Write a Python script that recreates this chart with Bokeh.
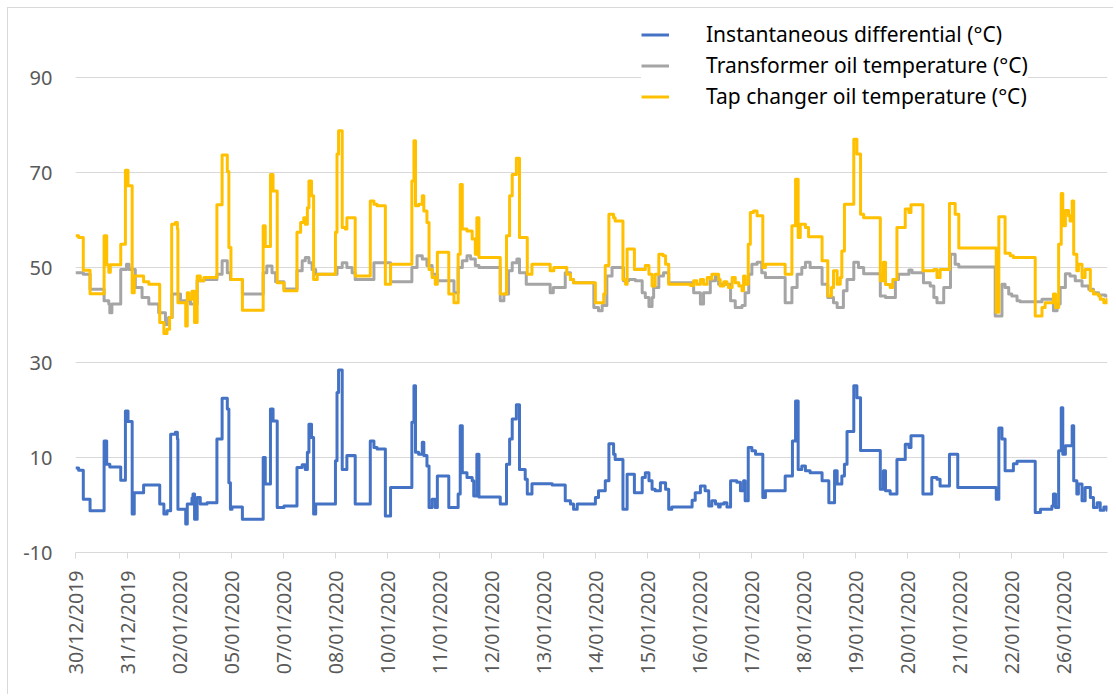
from math import pi
from bokeh.plotting import figure
from bokeh.models import Range1d, Legend, LegendItem, FixedTicker
from bokeh.embed import file_html
from bokeh.resources import INLINE

# ---- categories (row index of the sheet; a date label every 100 rows) ----
label_rows = [0, 100, 200, 300, 400, 500, 600, 700, 800, 900,
              1000, 1100, 1200, 1300, 1400, 1500, 1600, 1700, 1800, 1900]
date_labels = ["30/12/2019", "31/12/2019", "02/01/2020", "05/01/2020", "07/01/2020",
               "08/01/2020", "10/01/2020", "11/01/2020", "12/01/2020", "13/01/2020",
               "14/01/2020", "15/01/2020", "16/01/2020", "17/01/2020", "18/01/2020",
               "19/01/2020", "20/01/2020", "21/01/2020", "22/01/2020", "26/01/2020"]
last_row = 1985
y_ticks = [-10, 10, 30, 50, 70, 90]
y_labels = ["-10", "10", "30", "50", "70", "90"]

# ---- series: (row, value) where the value changes ----
tap_changer = [
    (0, 56.7), (6, 56.3), (15, 49.4), (28, 44.5), (55, 56.7), (60, 50.6), (64, 49.0), (67, 50.6),
    (87, 54.9), (96, 70.5), (101, 67.2), (109, 44.7), (113, 48.2), (131, 47.0), (141, 46.5),
    (162, 38.4), (170, 36.1), (176, 37.0), (181, 39.5), (185, 59.1), (192, 59.5), (196, 58.1),
    (197, 42.6), (212, 37.7), (215, 44.7), (218, 43.3), (224, 45.0), (229, 38.4), (234, 48.2),
    (240, 47.2), (247, 47.9), (272, 63.2), (282, 73.7), (292, 70.2), (295, 54.2), (299, 47.5),
    (321, 41.0), (361, 58.8), (365, 54.4), (375, 69.6), (380, 66.1), (388, 46.8), (401, 45.1),
    (426, 57.4), (433, 59.5), (439, 60.5), (442, 59.1), (446, 62.6), (449, 68.2), (454, 65.1),
    (458, 47.5), (465, 48.6), (500, 57.4), (503, 73.9), (506, 78.8), (513, 58.4), (519, 58.1),
    (522, 60.5), (538, 48.2), (567, 64.0), (574, 63.3), (580, 63.0), (596, 46.5), (606, 50.7),
    (647, 68.2), (651, 76.7), (654, 63.0), (660, 63.3), (667, 65.1), (670, 61.9), (676, 59.5),
    (680, 49.6), (686, 47.9), (692, 46.5), (696, 53.2), (718, 44.4), (728, 42.6), (736, 52.8),
    (740, 67.5), (744, 58.1), (753, 57.7), (763, 56.0), (769, 52.8), (772, 60.5), (776, 52.1),
    (817, 44.4), (829, 56.7), (835, 65.1), (840, 69.6), (848, 73.0), (854, 56.3), (869, 48.6),
    (878, 50.7), (913, 49.3), (920, 50.0), (945, 48.6), (952, 47.5), (958, 46.8), (1000, 42.6),
    (1016, 44.4), (1019, 50.4), (1026, 61.2), (1035, 60.5), (1038, 59.8), (1053, 47.5),
    (1058, 46.5), (1061, 53.9), (1075, 49.6), (1096, 50.4), (1103, 48.6), (1109, 46.1),
    (1115, 48.6), (1122, 52.8), (1130, 52.5), (1135, 50.7), (1141, 46.5), (1183, 46.2),
    (1189, 47.2), (1195, 46.5), (1202, 47.5), (1208, 46.5), (1215, 47.9), (1221, 47.6),
    (1224, 48.6), (1237, 47.5), (1240, 46.1), (1247, 47.0), (1253, 46.5), (1256, 45.8),
    (1263, 47.9), (1269, 46.8), (1276, 46.1), (1282, 45.1), (1285, 48.2), (1288, 46.5),
    (1294, 54.9), (1298, 61.6), (1304, 61.9), (1311, 60.9), (1322, 50.0), (1327, 50.7),
    (1365, 48.6), (1378, 58.8), (1385, 68.6), (1390, 56.3), (1394, 59.1), (1404, 58.4),
    (1410, 56.5), (1436, 51.4), (1447, 44.0), (1454, 45.8), (1458, 49.3), (1465, 46.5),
    (1471, 47.9), (1474, 53.5), (1479, 63.3), (1497, 77.0), (1503, 73.9), (1510, 61.2),
    (1516, 60.5), (1548, 47.2), (1554, 51.1), (1558, 46.4), (1567, 45.8), (1572, 47.5),
    (1580, 58.4), (1596, 62.3), (1603, 61.6), (1607, 63.2), (1630, 49.3), (1651, 49.6),
    (1657, 47.9), (1663, 49.6), (1681, 63.5), (1692, 61.2), (1699, 54.1), (1771, 40.6),
    (1776, 60.7), (1788, 53.0), (1798, 52.5), (1804, 52.1), (1846, 39.8), (1859, 41.6),
    (1865, 42.6), (1881, 44.4), (1885, 41.6), (1891, 54.9), (1896, 65.6), (1899, 58.8),
    (1904, 62.0), (1910, 60.9), (1913, 59.8), (1917, 64.0), (1920, 52.8), (1926, 49.3),
    (1929, 50.7), (1936, 47.9), (1942, 49.6), (1952, 45.1), (1958, 44.4), (1968, 44.0),
    (1971, 43.3), (1978, 42.6), (1984, 43.3),
]

transformer = [
    (0, 48.9), (15, 48.6), (28, 45.4), (55, 43.0), (64, 42.3), (66, 40.5), (70, 42.3), (87, 49.6),
    (98, 50.7), (103, 49.6), (115, 45.8), (128, 43.7), (141, 42.3), (160, 40.5), (173, 38.0),
    (179, 39.5), (186, 44.4), (202, 43.0), (221, 42.3), (234, 47.2), (247, 47.5), (272, 48.6),
    (282, 51.4), (292, 48.9), (298, 47.5), (321, 44.4), (361, 48.9), (368, 50.3), (378, 48.9),
    (385, 47.0), (401, 45.5), (426, 49.3), (436, 51.4), (442, 52.1), (449, 51.0), (455, 49.6),
    (462, 48.6), (503, 50.0), (513, 51.0), (522, 50.0), (532, 48.9), (538, 47.5), (574, 51.0),
    (606, 47.0), (647, 50.0), (657, 52.5), (667, 51.8), (676, 50.4), (686, 48.6), (696, 47.2),
    (728, 44.7), (736, 50.0), (744, 51.4), (753, 52.5), (760, 51.8), (769, 50.4), (776, 50.0),
    (817, 43.0), (824, 44.4), (833, 49.3), (840, 51.0), (849, 51.8), (854, 48.9), (867, 46.5),
    (913, 44.7), (919, 45.8), (942, 48.9), (952, 47.5), (958, 46.8), (997, 41.6), (1006, 40.9),
    (1013, 42.0), (1022, 48.2), (1032, 50.0), (1054, 47.2), (1064, 47.5), (1077, 47.2),
    (1090, 44.7), (1096, 43.7), (1103, 41.8), (1109, 43.7), (1112, 45.8), (1122, 48.2),
    (1131, 48.9), (1141, 46.8), (1189, 44.7), (1202, 42.3), (1208, 44.7), (1221, 47.2),
    (1231, 48.2), (1237, 46.5), (1260, 43.0), (1269, 41.6), (1282, 42.0), (1288, 44.7),
    (1295, 48.6), (1301, 50.7), (1311, 51.1), (1320, 48.9), (1327, 47.9), (1365, 42.6),
    (1378, 45.8), (1388, 48.6), (1397, 50.0), (1404, 51.1), (1413, 50.0), (1436, 46.5),
    (1447, 43.7), (1458, 42.6), (1465, 41.6), (1477, 45.1), (1484, 47.5), (1497, 51.1),
    (1506, 50.0), (1516, 48.7), (1548, 44.0), (1558, 43.7), (1577, 47.5), (1583, 48.6),
    (1603, 49.5), (1609, 48.9), (1631, 46.8), (1644, 46.1), (1651, 43.7), (1657, 42.6),
    (1670, 45.8), (1683, 52.8), (1692, 50.7), (1699, 50.1), (1769, 39.8), (1782, 46.5),
    (1788, 45.8), (1795, 44.4), (1801, 44.0), (1811, 43.0), (1817, 42.8), (1859, 43.3),
    (1881, 40.9), (1888, 42.3), (1894, 45.8), (1904, 48.7), (1913, 48.2), (1923, 47.2),
    (1936, 46.1), (1949, 45.4), (1958, 44.7), (1968, 44.2), (1981, 44.0),
]

differential = [
    (0, 7.8), (6, 7.3), (15, 1.2), (28, -1.2), (55, 13.5), (60, 8.6), (66, 8.0), (87, 5.2),
    (96, 19.8), (101, 17.6), (109, -1.9), (113, 2.6), (131, 4.2), (162, 0.2), (170, -1.9),
    (176, -1.2), (183, 14.9), (192, 15.3), (196, 13.9), (197, -0.9), (212, -4.0), (215, 0.2),
    (224, 1.5), (226, 2.3), (229, -3.0), (234, 1.6), (240, 0.2), (253, 0.5), (272, 13.9),
    (282, 22.5), (292, 20.2), (295, 4.7), (298, -0.9), (301, -0.4), (321, -3.0), (361, 10.0),
    (365, 4.4), (375, 20.2), (380, 17.7), (388, -0.5), (401, -0.2), (426, 7.9), (436, 8.5),
    (442, 7.5), (446, 11.1), (449, 17.0), (454, 14.2), (458, -1.9), (462, 0.2), (500, 9.3),
    (503, 23.7), (506, 28.4), (513, 7.5), (522, 10.4), (538, 0.2), (567, 13.5), (574, 12.1),
    (580, 11.8), (596, -2.3), (606, 3.7), (647, 17.4), (651, 25.1), (654, 11.1), (660, 10.7),
    (667, 13.2), (670, 10.4), (676, 8.2), (680, -0.5), (686, 1.2), (692, -0.5), (696, 6.1),
    (718, -0.5), (736, 2.3), (740, 16.7), (744, 6.8), (753, 5.8), (763, 5.1), (766, 1.9),
    (772, 10.7), (776, 1.7), (817, 0.2), (829, 8.6), (835, 13.9), (840, 18.1), (848, 21.1),
    (854, 7.5), (865, 5.4), (869, 2.3), (878, 4.5), (917, 4.2), (942, 0.9), (952, 0.2),
    (958, -0.9), (965, 0.2), (1000, 1.6), (1006, 3.0), (1019, 5.1), (1026, 12.9), (1035, 10.7),
    (1038, 9.6), (1053, -0.9), (1061, 6.5), (1075, 2.6), (1090, 5.8), (1096, 6.8), (1103, 5.1),
    (1109, 3.3), (1115, 3.0), (1125, 4.7), (1135, 3.3), (1141, -0.9), (1147, -0.4),
    (1186, 1.0), (1192, 2.6), (1202, 4.0), (1211, 3.0), (1218, -0.2), (1224, 0.9), (1231, 0.2),
    (1237, -0.4), (1240, 0.2), (1247, 0.5), (1253, -0.4), (1260, 5.1), (1272, 4.8), (1279, 3.0),
    (1285, 5.1), (1288, 0.9), (1294, 12.1), (1301, 11.4), (1308, 10.7), (1322, 1.6), (1327, 3.0),
    (1365, 6.1), (1379, 13.5), (1385, 21.9), (1390, 7.5), (1397, 8.2), (1404, 7.2), (1413, 6.8),
    (1436, 5.1), (1449, 0.5), (1460, 7.2), (1465, 4.4), (1474, 6.1), (1479, 8.6), (1484, 15.5),
    (1497, 25.1), (1503, 22.6), (1510, 11.5), (1548, 3.3), (1554, 7.2), (1558, 3.0), (1567, 2.3),
    (1580, 9.6), (1596, 12.8), (1603, 12.1), (1607, 14.6), (1630, 2.3), (1647, 5.8), (1657, 5.4),
    (1663, 4.0), (1681, 10.7), (1697, 3.7), (1771, 1.2), (1776, 16.2), (1782, 13.9), (1788, 7.2),
    (1804, 8.7), (1811, 9.2), (1846, -1.6), (1856, -0.9), (1878, -0.2), (1881, 2.3), (1885, -0.5),
    (1891, 11.4), (1896, 20.5), (1899, 10.7), (1904, 12.5), (1917, 16.7), (1920, 5.1), (1926, 2.3),
    (1929, 4.4), (1936, 0.9), (1942, 3.7), (1952, 1.6), (1958, -0.5), (1965, 0.5), (1971, -1.1),
    (1978, -0.4), (1984, -1.1),
]


def unzip(pairs):
    xs = [r for r, _ in pairs] + [last_row]
    ys = [v for _, v in pairs] + [pairs[-1][1]]
    return xs, ys


FONT = "Noto Sans"
GRID = "#d9d9d9"
TXT = "#595959"

# frame spans from the chart-area top down to the -10 axis (4.75 px per degree)
p = figure(frame_width=1032, frame_height=544,
           min_border_left=67, min_border_right=7, min_border_top=0, min_border_bottom=143,
           x_range=Range1d(0, last_row), y_range=Range1d(-10, 104.53),
           output_backend="svg", toolbar_location=None)
p.margin = (8, 0, 0, 8)
p.styles = {"box-shadow": "-1px -1px 0 0 #d9d9d9"}
p.outline_line_color = None
p.background_fill_color = "white"
p.border_fill_color = "white"

p.xgrid.visible = False
p.ygrid.ticker = FixedTicker(ticks=[t for t in y_ticks if t > -10])
p.ygrid.grid_line_color = GRID
p.ygrid.grid_line_width = 1

p.yaxis.ticker = FixedTicker(ticks=y_ticks)
p.yaxis.major_label_overrides = {t: l for t, l in zip(y_ticks, y_labels)}
p.yaxis.axis_line_color = None
p.yaxis.major_tick_line_color = None
p.yaxis.minor_tick_line_color = None
p.yaxis.major_label_standoff = 17
p.yaxis.major_label_text_font = FONT
p.yaxis.major_label_text_font_size = "20px"
p.yaxis.major_label_text_color = TXT

p.xaxis.ticker = FixedTicker(ticks=label_rows)
p.xaxis.major_label_overrides = {r: l for r, l in zip(label_rows, date_labels)}
p.xaxis.major_label_orientation = pi / 2
p.xaxis.axis_line_color = GRID
p.xaxis.major_tick_line_color = GRID
p.xaxis.major_tick_out = 6
p.xaxis.major_tick_in = 0
p.xaxis.minor_tick_line_color = None
p.xaxis.major_label_standoff = 12
p.xaxis.major_label_text_font = FONT
p.xaxis.major_label_text_font_size = "19.5px"
p.xaxis.major_label_text_color = TXT

bx, by = unzip(differential)
gx, gy = unzip(transformer)
yx, yy = unzip(tap_changer)
r_blue = p.step(bx, by, mode="after", line_color="#4472C4", line_width=3, line_join="round")
r_gray = p.step(gx, gy, mode="after", line_color="#A5A5A5", line_width=3, line_join="round")
r_yel = p.step(yx, yy, mode="after", line_color="#FFC000", line_width=3, line_join="round")

legend = Legend(items=[
    LegendItem(label="Instantaneous differential (°C)", renderers=[r_blue]),
    LegendItem(label="Transformer oil temperature (°C)", renderers=[r_gray]),
    LegendItem(label="Tap changer oil temperature (°C)", renderers=[r_yel]),
], location=(566, 442), glyph_width=28, glyph_height=25, label_height=25, spacing=3,
    padding=14, margin=0, label_standoff=37, border_line_color=None,
    background_fill_color="white", background_fill_alpha=1.0,
    label_text_font=FONT, label_text_font_size="21px", label_text_color="#000000")
p.add_layout(legend)

open("out.html", "w").write(file_html(p, INLINE))
